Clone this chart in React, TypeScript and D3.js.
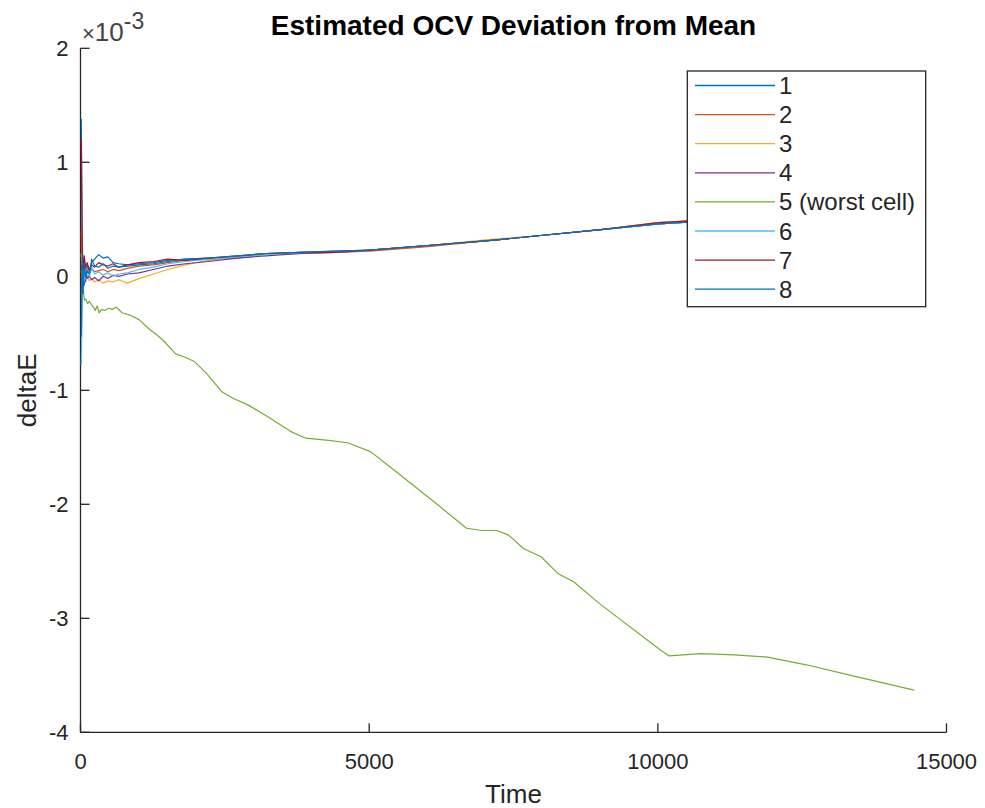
import React from "react";
import * as d3 from "d3";

const cellNames = ["1", "2", "3", "4", "5 (worst cell)", "6", "7", "8"];
const cellColors = ["#0072BD", "#D95319", "#EDB120", "#7E2F8E", "#77AC30", "#4DBEEE", "#A2142F", "#0072BD"];

const xTicks = [0, 5000, 10000, 15000];
const yTicks = [-4, -3, -2, -1, 0, 1, 2];

// shared time grid for the converging cells
const timeGrid = [0, 15, 30, 50, 75, 100, 140, 180, 230, 300, 380, 460, 550, 650, 800,
  1000, 1250, 1500, 1800, 2200, 2700, 3200, 3800, 4400, 5000, 6000, 7000, 8000, 9000, 10000, 11000, 12000, 13000, 14430];

const cell1 = [1.38, 0.35, 0.02, 0.12, -0.05, 0.1, 0.04, 0.12, 0.15, 0.19, 0.16, 0.17, 0.12, 0.11, 0.10,
  0.11, 0.12, 0.14, 0.15, 0.16, 0.17, 0.20, 0.21, 0.22, 0.23, 0.27, 0.31, 0.36, 0.41, 0.46, 0.49, 0.52, 0.55, 0.58];
const cell2 = [0.4, -0.1, 0.15, 0.0, 0.08, 0.05, 0.03, 0.06, 0.04, 0.05, 0.06, 0.04, 0.06, 0.05, 0.07,
  0.09, 0.10, 0.12, 0.14, 0.15, 0.16, 0.19, 0.20, 0.21, 0.22, 0.26, 0.31, 0.36, 0.41, 0.47, 0.50, 0.53, 0.56, 0.59];
const cell3 = [0.2, 0.05, -0.1, 0.05, -0.02, 0.0, -0.04, -0.02, -0.05, -0.03, -0.06, -0.04, -0.05, -0.03, -0.06,
  -0.02, 0.02, 0.06, 0.10, 0.14, 0.17, 0.19, 0.20, 0.21, 0.23, 0.27, 0.32, 0.36, 0.41, 0.47, 0.50, 0.53, 0.56, 0.59];
const cell4 = [0.1, -0.15, 0.05, -0.08, 0.02, -0.02, 0.0, -0.03, -0.01, -0.04, 0.0, -0.02, 0.01, 0.0, 0.02,
  0.03, 0.06, 0.09, 0.11, 0.13, 0.16, 0.18, 0.20, 0.21, 0.23, 0.27, 0.31, 0.36, 0.41, 0.46, 0.49, 0.52, 0.55, 0.58];
const cell6 = [-0.78, -0.3, 0.1, -0.05, 0.05, 0.03, 0.0, 0.08, 0.02, 0.04, 0.01, 0.03, 0.0, 0.02, 0.03,
  0.06, 0.08, 0.11, 0.13, 0.15, 0.17, 0.19, 0.21, 0.21, 0.23, 0.27, 0.31, 0.36, 0.41, 0.46, 0.49, 0.52, 0.55, 0.58];
const cell7 = [1.21, 0.3, 0.05, 0.18, 0.08, 0.12, 0.06, 0.1, 0.08, 0.12, 0.10, 0.09, 0.11, 0.08, 0.10,
  0.12, 0.13, 0.15, 0.14, 0.16, 0.18, 0.20, 0.21, 0.21, 0.23, 0.27, 0.31, 0.36, 0.41, 0.47, 0.50, 0.53, 0.56, 0.59];
const cell8 = [-0.53, 0.2, -0.15, 0.1, 0.0, 0.05, 0.02, 0.15, 0.09, 0.08, 0.11, 0.07, 0.09, 0.08, 0.09,
  0.10, 0.11, 0.13, 0.15, 0.16, 0.18, 0.20, 0.21, 0.22, 0.23, 0.27, 0.31, 0.36, 0.41, 0.46, 0.49, 0.52, 0.55, 0.58];

// worst cell (5) on its own time grid
const cell5Time = [0, 20, 40, 55, 80, 109, 140, 175, 210, 240, 275, 308, 350, 407, 473, 540, 606, 705, 838, 1000,
  1169, 1300, 1434, 1633, 1800, 1966, 2163, 2300, 2428, 2627, 2893, 3225, 3622, 3889, 4285, 4616, 5015, 5345, 5744, 6140,
  6672, 6937, 7202, 7401, 7665, 7964, 8262, 8527, 8998, 10037, 10182, 10730, 11307, 11885, 12578, 13329, 14426];
const cell5 = [0.05, -0.05, -0.15, -0.21, -0.20, -0.24, -0.22, -0.25, -0.27, -0.30, -0.26, -0.32, -0.29, -0.30, -0.28, -0.29, -0.27, -0.32, -0.34, -0.38,
  -0.46, -0.51, -0.57, -0.68, -0.71, -0.75, -0.85, -0.93, -1.01, -1.07, -1.13, -1.23, -1.36, -1.42, -1.44, -1.46, -1.54, -1.67, -1.83, -1.99,
  -2.21, -2.23, -2.23, -2.27, -2.39, -2.46, -2.61, -2.68, -2.88, -3.28, -3.33, -3.31, -3.32, -3.34, -3.41, -3.50, -3.63];

const FONT = "'Liberation Sans', Arial, Helvetica, sans-serif";
const AX = "#262626";

export default function App() {
  const W = 985, H = 808;
  const left = 80.5, right = 946.5, top = 48.3, bottom = 732.3;
  const x = d3.scaleLinear().domain([0, 15000]).range([left, right]);
  const y = d3.scaleLinear().domain([-4, 2]).range([bottom, top]);

  const series = [
    { t: timeGrid, v: cell1 },
    { t: timeGrid, v: cell2 },
    { t: timeGrid, v: cell3 },
    { t: timeGrid, v: cell4 },
    { t: cell5Time, v: cell5 },
    { t: timeGrid, v: cell6 },
    { t: timeGrid, v: cell7 },
    { t: timeGrid, v: cell8 },
  ];
  const line = d3.line<[number, number]>().x((d) => x(d[0]) + 0.8).y((d) => y(d[1]));

  const legX = 687.3, legY = 71, legW = 238.4, legH = 235.7;
  const rowY = (i: number) => 85.5 + i * 29.1;

  return (
    <svg width={W} height={H} style={{ position: "absolute", left: 0, top: 0, background: "#fff" }} fontFamily={FONT}>
      <rect x={0} y={0} width={W} height={H} fill="#fff" />
      <defs>
        <clipPath id="plotclip">
          <rect x={left - 1} y={top} width={right - left + 1} height={bottom - top} />
        </clipPath>
      </defs>
      {/* axes */}
      <line x1={left} x2={left} y1={top} y2={bottom} stroke={AX} strokeWidth={1.3} />
      <line x1={left} x2={right} y1={bottom} y2={bottom} stroke={AX} strokeWidth={1.3} />
      {yTicks.map((v) => (
        <g key={"y" + v}>
          <line x1={left} x2={left + 9} y1={y(v)} y2={y(v)} stroke={AX} strokeWidth={1.3} />
          <text x={left - 12} y={y(v) + 7.5} textAnchor="end" fontSize={22} fill={AX}>{v}</text>
        </g>
      ))}
      {xTicks.map((v) => (
        <g key={"x" + v}>
          <line x1={x(v)} x2={x(v)} y1={bottom} y2={bottom - 9} stroke={AX} strokeWidth={1.3} />
          <text x={x(v)} y={769} textAnchor="middle" fontSize={22} fill={AX}>{v}</text>
        </g>
      ))}
      <g clipPath="url(#plotclip)">
        {series.map((s, i) => (
          <path key={i} d={line(s.t.map((t, j) => [t, s.v[j]]) as [number, number][]) || ""}
            fill="none" stroke={cellColors[i]} strokeWidth={1.2} strokeLinejoin="round" />
        ))}
      </g>
      {/* exponent */}
      <text x={82} y={41} fontSize={26} fill="#444">
        <tspan fontSize={22}>×</tspan>10<tspan dy={-12} fontSize={23}>-3</tspan>
      </text>
      {/* labels */}
      <text x={(left + right) / 2} y={803} textAnchor="middle" fontSize={26} fill={AX}>Time</text>
      <text transform={`translate(36,${(top + bottom) / 2}) rotate(-90)`} textAnchor="middle" fontSize={26} fill={AX}>deltaE</text>
      <text x={(left + right) / 2} y={35} textAnchor="middle" fontSize={28} fontWeight="bold" fill="#000">Estimated OCV Deviation from Mean</text>
      {/* legend */}
      <rect x={legX} y={legY} width={legW} height={legH} fill="#fff" stroke={AX} strokeWidth={1.3} />
      {cellNames.map((n, i) => (
        <g key={"l" + i}>
          <line x1={695} x2={775} y1={rowY(i)} y2={rowY(i)} stroke={cellColors[i]} strokeWidth={1.3} />
          <text x={779} y={rowY(i) + 8.5} fontSize={24} fill={AX}>{n}</text>
        </g>
      ))}
    </svg>
  );
}
